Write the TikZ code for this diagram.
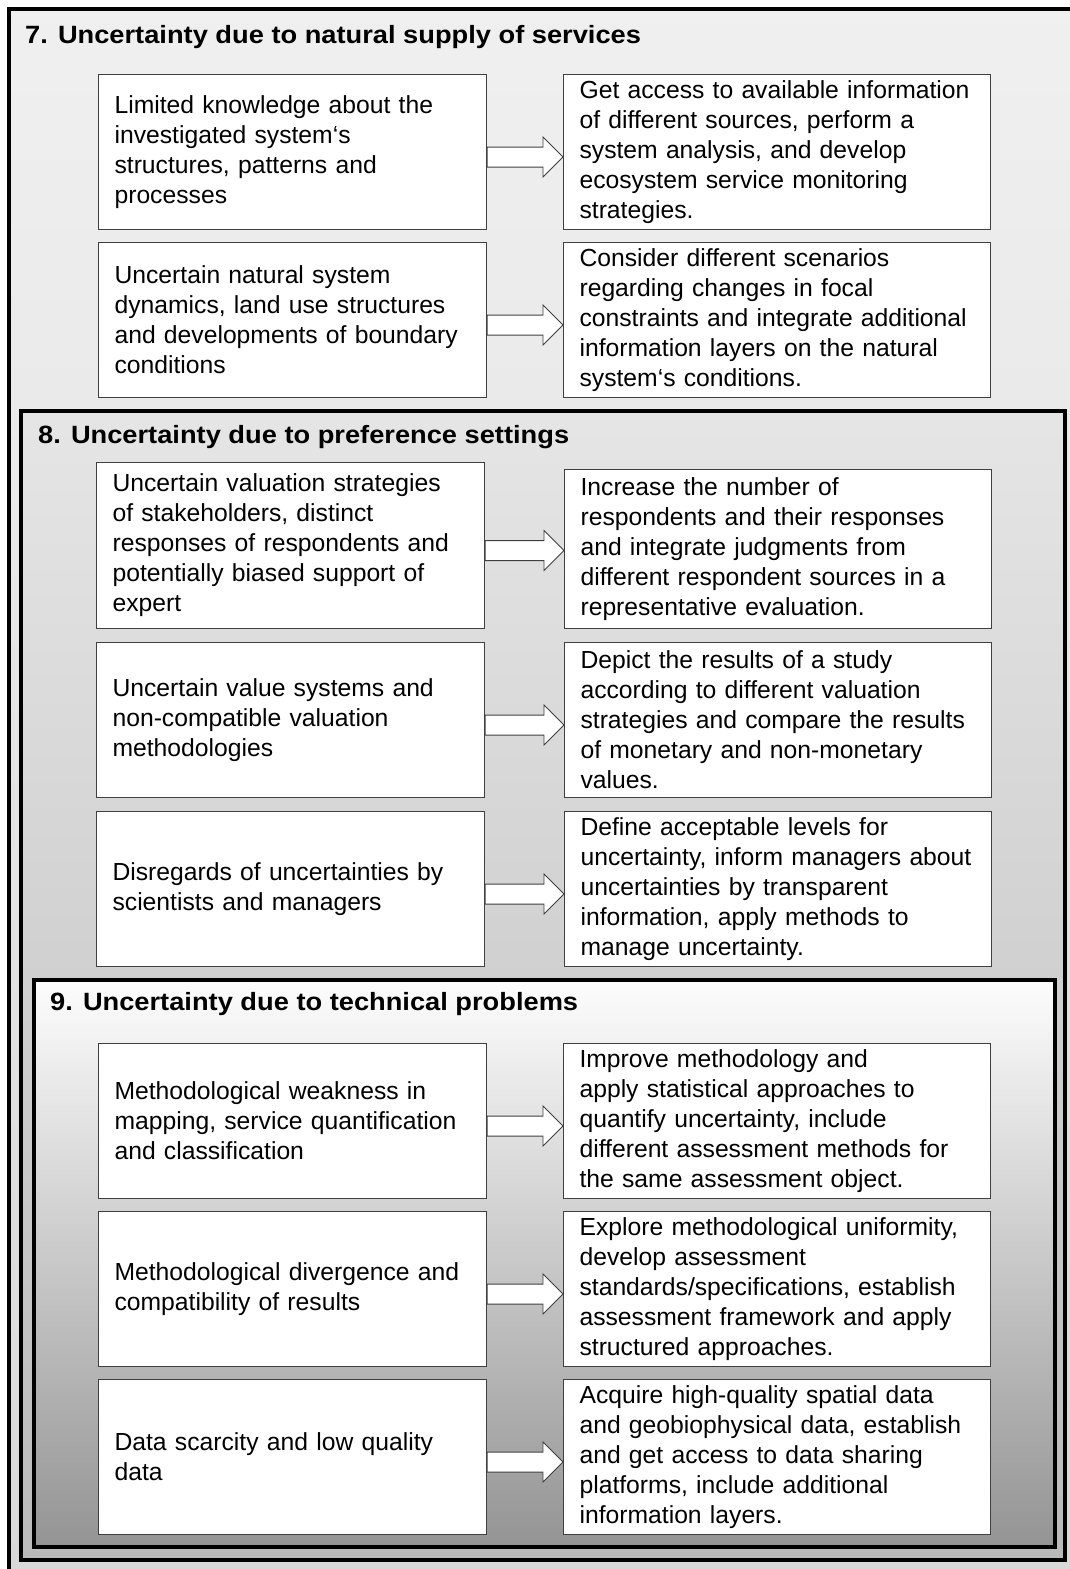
\documentclass[tikz,border=0pt]{standalone}
\usepackage{fontspec}
\setmainfont{Liberation Sans}
\newfontfamily\titlefont{Liberation Sans}[FakeStretch=1.09]
\usetikzlibrary{calc}

% hollow block arrow from the box #1 to the box #2
\newcommand{\blockarrow}[2]{%
\draw[hollow] let \p1=($(#1.east)+(0,5)$), \p2=(#2.west) in
  (\x1,\y1+10pt) -- (\x2-20pt,\y1+10pt) -- (\x2-20pt,\y1+20pt) -- (\x2,\y1)
  -- (\x2-20pt,\y1-20pt) -- (\x2-20pt,\y1-10pt) -- (\x1,\y1-10pt) -- cycle;}

\begin{document}
\begin{tikzpicture}
[x=1pt,y=-1pt,
 box/.style={draw=black!75, line width=1.1pt, fill=white, anchor=north west,
   inner xsep=16pt, inner ysep=0pt, align=left, font=\fontsize{24.7}{30}\selectfont},
 lbox/.style={box, minimum width=388pt, text width=356pt, minimum height=155pt},
 rbox/.style={box, minimum width=427pt, text width=395pt, minimum height=155pt},
 title/.style={anchor=base west, inner sep=0pt, font=\titlefont\bfseries\fontsize{25}{30}\selectfont},
 frame/.style={draw=black, line width=4pt},
 hollow/.style={draw=black!75, line width=0.9pt, fill=white}
]

\useasboundingbox (0,0) rectangle (1069,1569);

% the three frames, the outer one is cut by the page edge
\draw[frame, top color=black!6, bottom color=black!15] (8.5,8.5) rectangle (1090,1590);
\draw[frame, top color=black!10, bottom color=black!27] (21,410.5) rectangle (1065,1560);
\draw[frame, top color=black!1, bottom color=black!42] (34,980) rectangle (1055,1547);

\node[title] (T7) at (25,43) {7. Uncertainty due to natural supply of services};
\node[title] (T8) at (38,443) {8. Uncertainty due to preference settings};
\node[title] (T9) at (50,1010) {9. Uncertainty due to technical problems};

% section 7
\node[lbox] (L1) at (98,74) {Limited knowledge about the\\investigated system‘s\\structures, patterns and\\processes};
\node[rbox] (R1) at (563,74) {Get access to available information\\of different sources, perform a\\system analysis, and develop\\ecosystem service monitoring\\strategies.};
\node[lbox] (L2) at (98,242) {Uncertain natural system\\dynamics, land use structures\\and developments of boundary\\conditions};
\node[rbox] (R2) at (563,242) {Consider different scenarios\\regarding changes in focal\\constraints and integrate additional\\information layers on the natural\\system‘s conditions.};

% section 8
\node[lbox, minimum height=166pt] (L3) at (96,462) {Uncertain valuation strategies\\of stakeholders, distinct\\responses of respondents and\\potentially biased support of\\expert};
\node[rbox, minimum width=426pt, minimum height=159pt] (R3) at (564,469) {Increase the number of\\respondents and their responses\\and integrate judgments from\\different respondent sources in a\\representative evaluation.};
\node[lbox] (L4) at (96,642) {Uncertain value systems and\\non-compatible valuation\\methodologies};
\node[rbox, minimum width=426pt] (R4) at (564,642) {Depict the results of a study\\according to different valuation\\strategies and compare the results\\of monetary and non-monetary\\values.};
\node[lbox] (L5) at (96,811) {Disregards of uncertainties by\\scientists and managers};
\node[rbox, minimum width=426pt] (R5) at (564,811) {Define acceptable levels for\\uncertainty, inform managers about\\uncertainties by transparent\\information, apply methods to\\manage uncertainty.};

% section 9
\node[lbox] (L6) at (98,1043) {Methodological weakness in\\mapping, service quantification\\and classification};
\node[rbox] (R6) at (563,1043) {Improve methodology and\\apply statistical approaches to\\quantify uncertainty, include\\different assessment methods for\\the same assessment object.};
\node[lbox] (L7) at (98,1211) {Methodological divergence and\\compatibility of results};
\node[rbox] (R7) at (563,1211) {Explore methodological uniformity,\\develop assessment\\standards/specifications, establish\\assessment framework and apply\\structured approaches.};
\node[lbox] (L8) at (98,1379) {Data scarcity and low quality\\data};
\node[rbox] (R8) at (563,1379) {Acquire high-quality spatial data\\and geobiophysical data, establish\\and get access to data sharing\\platforms, include additional\\information layers.};

\foreach \k in {1,...,8}
  \blockarrow{L\k}{R\k};

\end{tikzpicture}
\end{document}
